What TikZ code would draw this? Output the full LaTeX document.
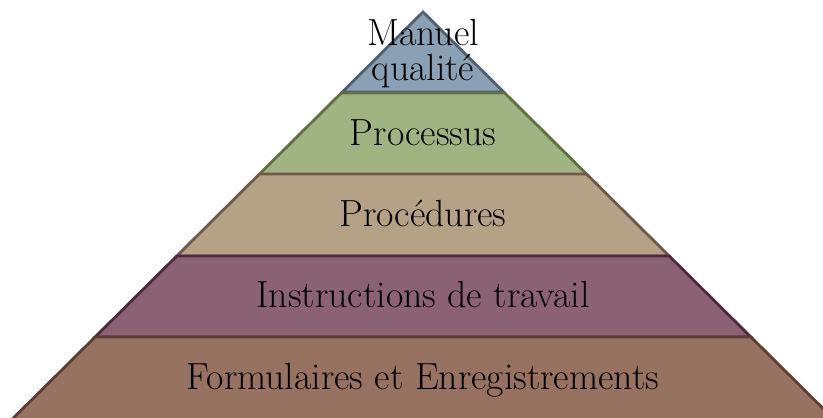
\documentclass[tikz,border=0pt]{standalone}
\usepackage{fontspec}
\definecolor{bfill}{RGB}{138,160,180}
\definecolor{bline}{RGB}{80,96,112}
\definecolor{gfill}{RGB}{160,180,130}
\definecolor{gline}{RGB}{96,112,64}
\definecolor{tfill}{RGB}{181,161,133}
\definecolor{tline}{RGB}{110,90,72}
\definecolor{pfill}{RGB}{139,98,115}
\definecolor{pline}{RGB}{78,42,58}
\definecolor{rfill}{RGB}{151,114,96}
\definecolor{rline}{RGB}{94,62,48}
\tikzset{
  layer/.style={line width=2.8pt, line join=miter},
  lbl/.style={font=\fontsize{37.8}{41}\selectfont, text=black, inner sep=0pt, anchor=base},
}
\begin{document}
\begin{tikzpicture}[x=1pt,y=-1pt]
\useasboundingbox (0,0) rectangle (823,418);
\clip (0,0) rectangle (823,418);
% apex (423,12), half width = 1.009*(y-12)
\def\hw#1{1.009*(#1-12)}
\draw[layer, fill=bfill, draw=bline] (423,12) -- ({423+\hw{92}},92) -- ({423-\hw{92}},92) -- cycle;
\draw[layer, fill=gfill, draw=gline] ({423-\hw{93}},93) -- ({423+\hw{93}},93) -- ({423+\hw{175}},175) -- ({423-\hw{175}},175) -- cycle;
\draw[layer, fill=tfill, draw=tline] ({423-\hw{174}},174) -- ({423+\hw{174}},174) -- ({423+\hw{256}},256) -- ({423-\hw{256}},256) -- cycle;
\draw[layer, fill=pfill, draw=pline] ({423-\hw{256}},256) -- ({423+\hw{256}},256) -- ({423+\hw{337}},337) -- ({423-\hw{337}},337) -- cycle;
\draw[layer, fill=rfill, draw=rline] ({423-\hw{337}},337) -- ({423+\hw{337}},337) -- ({423+\hw{420}},420) -- ({423-\hw{420}},420) -- cycle;
\node[lbl] (t1a) at (423,45) {Manuel};
\node[lbl] (t1b) at (423,80) {qualité};
\node[lbl] (t2) at (423,145) {Processus};
\node[lbl] (t3) at (423,226) {Procédures};
\node[lbl] (t4) at (423,307) {Instructions de travail};
\node[lbl] (t5) at (423,389) {Formulaires et Enregistrements};
\end{tikzpicture}
\end{document}
